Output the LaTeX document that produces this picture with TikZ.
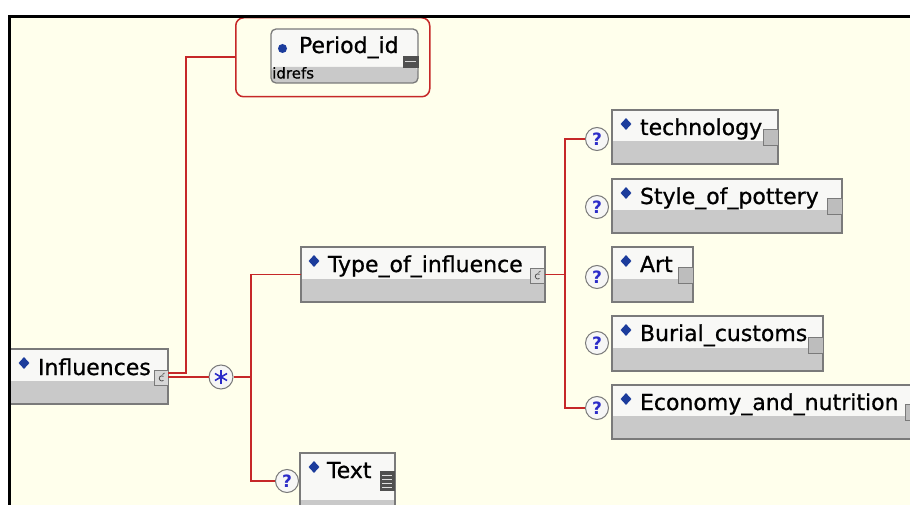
\documentclass[tikz,border=0pt]{standalone}
\usepackage{fontspec}
\setmainfont{DejaVu Sans}
\newfontfamily\lblfont[FakeBold=0.8]{DejaVu Sans}
\usetikzlibrary{shapes.geometric}
\definecolor{bgcream}{HTML}{FFFFEC}
\definecolor{boxgray}{HTML}{C9C9C9}
\definecolor{boxwhite}{HTML}{F8F8F6}
\definecolor{boxborder}{HTML}{7A7A7A}
\definecolor{linered}{HTML}{C62828}
\definecolor{diablue}{HTML}{1C3C9C}
\definecolor{qblue}{HTML}{2B2BC8}
\definecolor{iconfill}{HTML}{BDBDBD}
\definecolor{icondark}{HTML}{505050}
\begin{document}
\begin{tikzpicture}[x=1pt,y=-1pt,
  elbox/.style={draw=boxborder, line width=1.3pt, fill=boxwhite, inner sep=0pt, outer sep=0pt,
    anchor=north west, minimum height=55pt,
    path picture={\fill[boxgray] (path picture bounding box.south west) rectangle ([yshift=23pt]path picture bounding box.south east);}},
  perbox/.style={draw=boxborder, line width=1.3pt, fill=boxwhite, inner sep=0pt, outer sep=0pt,
    anchor=north west, rounded corners=5pt,
    path picture={\fill[boxgray] (path picture bounding box.south west) rectangle ([yshift=16pt]path picture bounding box.south east);}},
  lbl/.style={anchor=base west, inner sep=0pt, outer sep=0pt, font=\lblfont\fontsize{22}{26}\selectfont},
  dia/.style={diamond, fill=diablue, inner sep=0pt, minimum width=11pt, minimum height=12pt},
  simpleicon/.style={anchor=north west, draw=boxborder, fill=iconfill, line width=1pt, inner sep=0pt,
    minimum width=15pt, minimum height=16pt},
  cplxicon/.style={anchor=north west, draw=boxborder, fill=iconfill!60, line width=1pt, inner sep=0pt,
    minimum width=14pt, minimum height=15pt,
    path picture={\draw[icondark, line width=0.8pt] ([xshift=2pt,yshift=1.6pt]path picture bounding box.center) arc[start angle=50, end angle=310, radius=2.6pt];
      \draw[icondark, line width=0.7pt] ([xshift=1pt,yshift=3.5pt]path picture bounding box.center) -- ([xshift=3pt,yshift=5pt]path picture bounding box.center);}},
  texticon/.style={anchor=north west, draw=icondark, fill=icondark, line width=0.8pt, inner sep=0pt,
    minimum width=14pt, minimum height=19pt,
    path picture={\foreach \k in {4,8,12,16}{\draw[white!75!gray, line width=1pt] ([xshift=2pt,yshift=-\k pt]path picture bounding box.north west) -- ([xshift=-2pt,yshift=-\k pt]path picture bounding box.north east);}}},
  qc/.style={circle, draw=boxborder, fill=white!93!gray, line width=1pt, minimum size=23pt, inner sep=0pt,
    text=qblue, font=\fontsize{17}{18}\selectfont\bfseries},
  conn/.style={draw=linered, line width=1.8pt},
]
\useasboundingbox (0,0) rectangle (910,505);
\clip (0,0) rectangle (910,505);
\fill[white] (0,0) rectangle (910,505);
\fill[bgcream] (9,16) rectangle (910,505);

% ---------- connector joints ----------
\coordinate (pj) at (186,373);
\coordinate (sj1) at (251,274.5);
\coordinate (sj2) at (251,481);
\coordinate (cj1) at (565,139);
\coordinate (cj2) at (565,408);

% ---------- nodes ----------
% Period_id
\node[draw=linered, rounded corners=8pt, line width=1.5pt, minimum width=194pt, minimum height=79pt,
  anchor=north west, inner sep=0pt] (perout) at (235,17) {};
\node[perbox, minimum width=147pt, minimum height=54pt] (per) at (271,29) {};
\node[circle, fill=diablue, minimum size=9pt, inner sep=0pt] (per-d) at (282.5,48.5) {};
\node[lbl] (per-l) at (299,53) {Period\_id};
\node[anchor=base west, inner sep=0pt, font=\lblfont\fontsize{15}{18}\selectfont] (per-t) at (272,78.5) {idrefs};
\node[anchor=north west, fill=icondark, draw=icondark, minimum width=15pt, minimum height=11pt, inner sep=0pt] (per-i) at (403,56) {};
\draw[white!70!gray, line width=1.5pt] ([xshift=2pt]per-i.west) -- ([xshift=-2pt]per-i.east);

% Influences
\node[elbox, minimum width=158pt] (infl) at (10,349) {};
\node[dia] (infl-d) at (24,363) {};
\node[lbl] (infl-l) at (38,375) {Influences};
\node[cplxicon] (infl-i) at (154,370) {};

% sequence
\node[circle, draw=boxborder, fill=white!93!gray, line width=1pt, minimum size=24pt, inner sep=0pt] (star) at (221,377) {};
\draw[qblue, line width=1.6pt] ([yshift=7pt]star.center) -- ([yshift=-7pt]star.center);
\draw[qblue, line width=1.6pt] ([shift={(30:7pt)}]star.center) -- ([shift={(210:7pt)}]star.center);
\draw[qblue, line width=1.6pt] ([shift={(150:7pt)}]star.center) -- ([shift={(330:7pt)}]star.center);

% Type_of_influence
\node[elbox, minimum width=244pt] (typ) at (301,247) {};
\node[dia] (typ-d) at (314,261) {};
\node[lbl] (typ-l) at (328,272) {Type\_of\_influence};
\node[cplxicon] (typ-i) at (530,268) {};

% Text
\node[qc] (qtext) at (287,481) {?};
\node[elbox, minimum width=95pt, minimum height=70pt] (txt) at (300,453) {};
\node[dia] (txt-d) at (314,467) {};
\node[lbl] (txt-l) at (327,478) {Text};
\node[texticon] (txt-i) at (380,471) {};

% children
\node[qc] (qtech) at (597,139) {?};
\node[elbox, minimum width=166pt, minimum height=54pt] (tech) at (612,110) {};
\node[dia] (tech-d) at (626,124) {};
\node[lbl] (tech-l) at (640,135) {technology};
\node[simpleicon] (tech-i) at (763,129) {};

\node[qc] (qstyle) at (597,207) {?};
\node[elbox, minimum width=230pt, minimum height=54pt] (style) at (612,179) {};
\node[dia] (style-d) at (626,193) {};
\node[lbl] (style-l) at (640,204) {Style\_of\_pottery};
\node[simpleicon] (style-i) at (827,198) {};

\node[qc] (qart) at (597,277) {?};
\node[elbox, minimum width=81pt] (art) at (612,247) {};
\node[dia] (art-d) at (626,261) {};
\node[lbl] (art-l) at (640,272) {Art};
\node[simpleicon] (art-i) at (678,267) {};

\node[qc] (qbur) at (597,343) {?};
\node[elbox, minimum width=211pt] (bur) at (612,316) {};
\node[dia] (bur-d) at (626,330) {};
\node[lbl] (bur-l) at (640,341) {Burial\_customs};
\node[simpleicon] (bur-i) at (808,337) {};

\node[qc] (qecon) at (597,408) {?};
\node[elbox, minimum width=310pt, minimum height=54pt] (econ) at (612,385) {};
\node[dia] (econ-d) at (626,399) {};
\node[lbl] (econ-l) at (640,410) {Economy\_and\_nutrition};
\node[simpleicon] (econ-i) at (905,404) {};

% ---------- connectors ----------
\draw[conn] (perout.west) -| (pj) -- (pj -| infl.east);
\draw[conn] (infl.east |- star.west) -- (star.west);
\draw[conn] (star.east) -- (star.east -| sj1);
\draw[conn] (typ.west) -| (sj2) -- (qtext.west);
\draw[conn] (typ.east) -- (typ.east -| cj1);
\draw[conn] (qtech.west) -| (cj2) -- (qecon.west);

% frame
\draw[line width=3pt] (9,506) -- (9,16.5) -- (911,16.5);
\end{tikzpicture}
\end{document}
